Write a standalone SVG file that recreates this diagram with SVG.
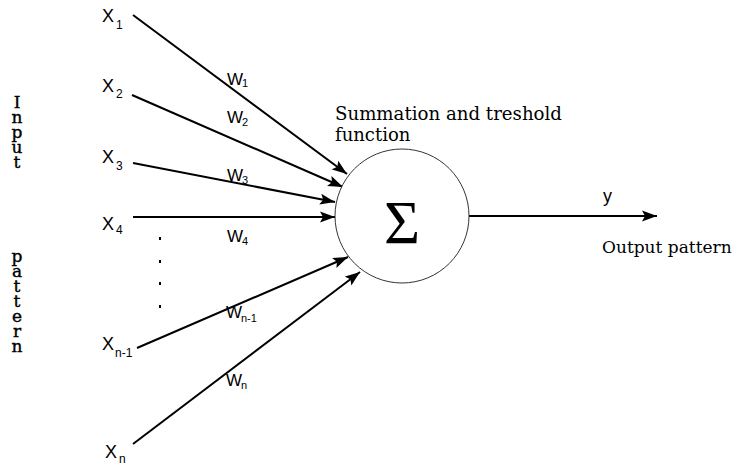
<svg xmlns="http://www.w3.org/2000/svg" width="734" height="466" viewBox="0 0 734 466">
<defs>
<marker id="ah" markerUnits="userSpaceOnUse" markerWidth="16" markerHeight="12" refX="15" refY="6" orient="auto">
<path d="M0,0.5 L15,6 L0,11.5 L3,6 z" fill="#000"/>
</marker>
<style>
.edge{stroke:#000;stroke-width:2;fill:none;marker-end:url(#ah)}
.sans{font-family:"Liberation Sans",Arial,sans-serif;fill:#000}
.x{font-size:18px}
.xs{font-size:12px}
.w{font-size:17px}
.ws{font-size:11px}
.serif{font-family:"DejaVu Serif","Liberation Serif",serif;fill:#000}
.v{font-size:17px;text-anchor:middle;stroke:#000;stroke-width:0.4}
</style>
</defs>
<rect width="734" height="466" fill="#fff"/>

<g id="connectors">
<line class="edge" x1="133" y1="15" x2="347" y2="174"/>
<line class="edge" x1="132" y1="95" x2="343" y2="187"/>
<line class="edge" x1="133" y1="163" x2="335" y2="202"/>
<line class="edge" x1="133" y1="217" x2="335" y2="217"/>
<line class="edge" x1="137" y1="348" x2="348" y2="257"/>
<line class="edge" x1="133" y1="444" x2="360" y2="272"/>
<line class="edge" x1="469" y1="216" x2="657" y2="216"/>
</g>

<g id="neuron">
<circle cx="402" cy="216" r="67" fill="#fff" stroke="#333" stroke-width="1"/>
<text x="402" y="243" font-family="'Liberation Serif',serif" font-size="62" text-anchor="middle">Σ</text>
</g>

<g id="neuron-label" class="serif" font-size="18">
<text x="335" y="120" textLength="227" lengthAdjust="spacingAndGlyphs">Summation and treshold</text>
<text x="335" y="141">function</text>
</g>

<g id="inputs" class="sans">
<text class="x" x="102" y="22">X</text><text class="xs" x="116" y="29">1</text>
<text class="x" x="102" y="92">X</text><text class="xs" x="116" y="98">2</text>
<text class="x" x="102" y="163">X</text><text class="xs" x="116" y="170">3</text>
<text class="x" x="102" y="230">X</text><text class="xs" x="116" y="234">4</text>
<text class="x" x="102" y="350">X</text><text class="xs" x="115" y="357">n-1</text>
<text class="x" x="105" y="458">X</text><text class="xs" x="119" y="463">n</text>
</g>

<g id="weights" class="sans">
<text class="w" x="227" y="85">W</text><text class="ws" x="242" y="87">1</text>
<text class="w" x="227" y="123">W</text><text class="ws" x="242" y="126">2</text>
<text class="w" x="227" y="181">W</text><text class="ws" x="242" y="184">3</text>
<text class="w" x="227" y="242">W</text><text class="ws" x="242" y="245">4</text>
<text class="w" x="226" y="318">W</text><text class="ws" x="241" y="322">n-1</text>
<text class="w" x="226" y="386">W</text><text class="ws" x="241" y="389">n</text>
</g>

<g id="dots" fill="#000">
<rect x="159" y="237" width="2" height="3"/>
<rect x="159" y="260" width="2" height="3"/>
<rect x="159" y="282" width="2" height="3"/>
<rect x="159" y="305" width="2" height="3"/>
</g>

<g id="output">
<text class="sans" x="603" y="202" font-size="18">y</text>
<text class="serif" x="602" y="253" font-size="17">Output pattern</text>
</g>

<g id="input-pattern" class="serif">
<text class="v" x="17" y="108">I</text>
<text class="v" x="17" y="123">n</text>
<text class="v" x="17" y="138">p</text>
<text class="v" x="17" y="153">u</text>
<text class="v" x="17" y="168">t</text>
<text class="v" x="17" y="262">p</text>
<text class="v" x="17" y="277">a</text>
<text class="v" x="17" y="292">t</text>
<text class="v" x="17" y="307">t</text>
<text class="v" x="17" y="322">e</text>
<text class="v" x="17" y="337">r</text>
<text class="v" x="17" y="352">n</text>
</g>
</svg>
